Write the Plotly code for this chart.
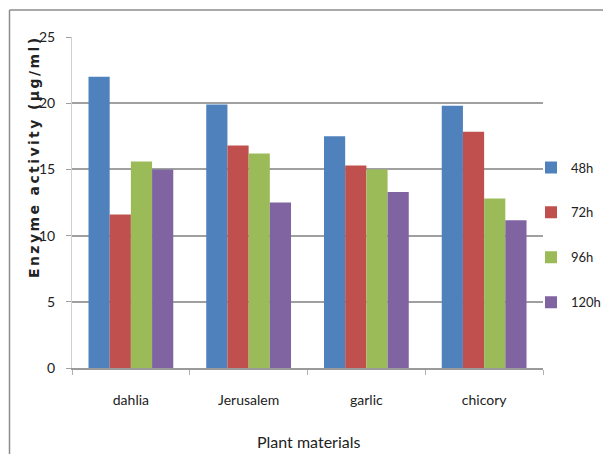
import plotly.graph_objects as go

# Plant materials and enzyme activity (µg/ml) per incubation time
materials = ["dahlia", "Jerusalem", "garlic", "chicory"]
h48 = [22.0, 19.9, 17.5, 19.8]
h72 = [11.6, 16.8, 15.3, 17.85]
h96 = [15.6, 16.2, 15.0, 12.8]
h120 = [15.0, 12.5, 13.3, 11.15]

series_names = ["48h", "72h", "96h", "120h"]
series_values = [h48, h72, h96, h120]
colors = ["#4F81BD", "#C0504D", "#9BBB59", "#8064A2"]

narrow = "Lato, Roboto, sans-serif"

fig = go.Figure()
for name, vals, col in zip(series_names, series_values, colors):
    fig.add_trace(go.Bar(
        x=materials, y=vals, name=name,
        marker=dict(color=col, line=dict(width=0)),
        legendgroup=name,
    ))

W, H = 603, 454
L, R, T, B = 72, 60, 37, 86
pw, ph = W - L - R, H - T - B


def px_x(px):
    return (px - L) / pw


def px_y(py):
    return (H - B - py) / ph


fig.update_layout(
    width=W, height=H,
    margin=dict(l=L, r=R, t=T, b=B, pad=0, autoexpand=False),
    paper_bgcolor="white", plot_bgcolor="white",
    barmode="group", bargap=0.28, bargroupgap=0,
    showlegend=True,
    legend=dict(
        x=px_x(531), xanchor="left",
        y=px_y(235), yanchor="middle",
        font=dict(family=narrow, size=13, color="#222"),
        tracegroupgap=25,
        bgcolor="rgba(0,0,0,0)",
        itemwidth=30,
    ),
    font=dict(family=narrow, size=14, color="#222"),
)

fig.update_xaxes(
    type="category",
    showline=True, linecolor="#9a9a9a", linewidth=1.5,
    ticks="outside", tickson="boundaries", ticklen=5, tickcolor="#b0b0b0",
    tickfont=dict(family=narrow, size=14, color="#222"),
    ticklabelstandoff=18,
    showgrid=False,
)
fig.update_yaxes(
    range=[0, 25], dtick=5, tick0=0,
    showline=True, linecolor="#d0d0d0", linewidth=1,
    ticks="outside", ticklen=5, tickcolor="#a0a0a0",
    tickfont=dict(family=narrow, size=14, color="#222"),
    ticklabelstandoff=8,
    showgrid=True, gridcolor="#a0a0a0", gridwidth=1.5,
    zeroline=False,
)

fig.add_annotation(
    text='<span style="letter-spacing:2.4px"><b>Enzyme activity (µg/ml)</b></span>',
    textangle=-90,
    xref="paper", yref="paper", x=px_x(34), y=px_y(157),
    xanchor="center", yanchor="middle", showarrow=False,
    font=dict(family="DejaVu Sans, Verdana, sans-serif", size=14, color="#222"),
)
fig.add_annotation(
    text="Plant materials",
    xref="paper", yref="paper", x=px_x(308), y=px_y(441),
    xanchor="center", yanchor="middle", showarrow=False,
    font=dict(family=narrow, size=16, color="#222"),
)

# frame lines along the top and left edge of the page
fig.add_shape(type="line", xref="paper", yref="paper",
              x0=px_x(9.5), x1=px_x(W), y0=px_y(10), y1=px_y(10),
              line=dict(color="#8c8c8c", width=1.5))
fig.add_shape(type="line", xref="paper", yref="paper",
              x0=px_x(9.5), x1=px_x(9.5), y0=px_y(10), y1=px_y(H),
              line=dict(color="#8c8c8c", width=1.5))

fig.write_html("out.html")
